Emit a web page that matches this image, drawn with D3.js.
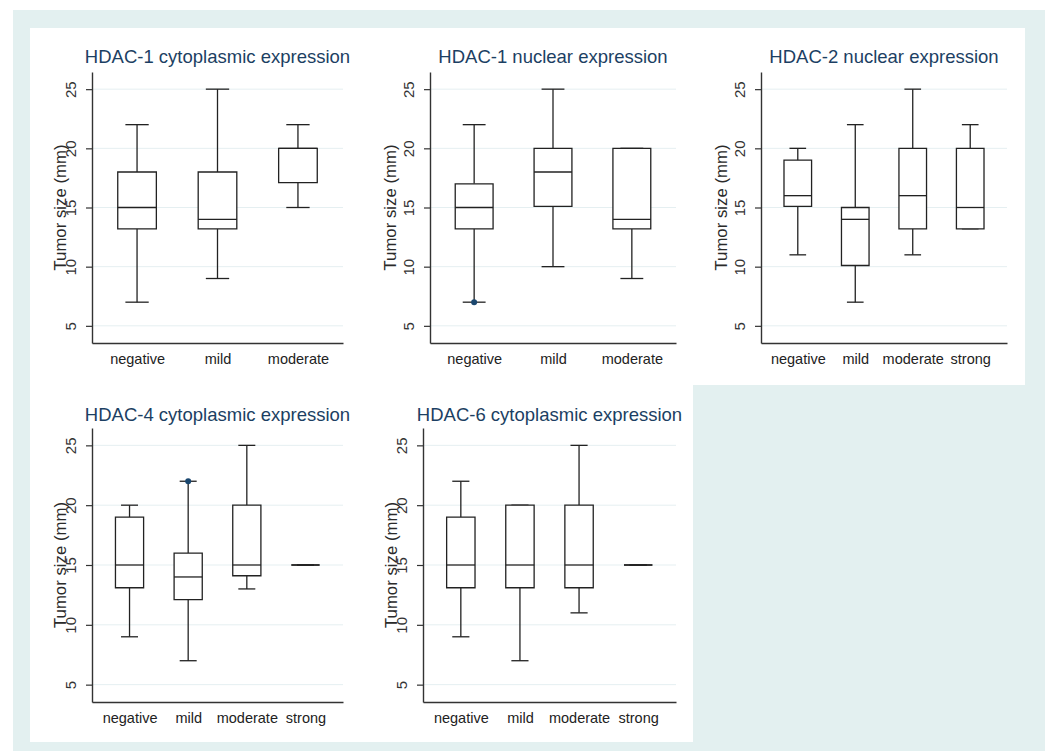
<!DOCTYPE html>
<html>
<head>
<meta charset="utf-8">
<script src="https://cdn.jsdelivr.net/npm/d3@7"></script>
<style>
  body { margin: 0; background: #fff; }
  svg { display: block; font-family: "Liberation Sans", Arial, sans-serif; }
</style>
</head>
<body>
<div id="chart"></div>
<script>
// categories
const catsThree = ["negative", "mild", "moderate"];
const catsFour = ["negative", "mild", "moderate", "strong"];
const yTicks = [5, 10, 15, 20, 25];

// box stats per category: [lower whisker, q1, median, q3, upper whisker]
const hdac1Cyto = [[7, 13.2, 15, 18, 22], [9, 13.2, 14, 18, 25], [15, 17.1, 20, 20, 22]];
const hdac1Nuc = [[7, 13.2, 15, 17, 22], [10, 15.1, 18, 20, 25], [9, 13.2, 14, 20, 20]];
const hdac2Nuc = [[11, 15.1, 16, 19, 20], [7, 10.1, 14, 15, 22], [11, 13.2, 16, 20, 25], [13.2, 13.2, 15, 20, 22]];
const hdac4Cyto = [[9, 13.1, 15, 19, 20], [7, 12.1, 14, 16, 22], [13, 14.1, 15, 20, 25], [15, 15, 15, 15, 15]];
const hdac6Cyto = [[9, 13.1, 15, 19, 22], [7, 13.1, 15, 20, 20], [11, 13.1, 15, 20, 25], [15, 15, 15, 15, 15]];

// outside values: [category, value]
const hdac1NucOut = [["negative", 7]];
const hdac4CytoOut = [["mild", 22]];

const panels = [
  { title: "HDAC-1 cytoplasmic expression", cats: catsThree, stats: hdac1Cyto, out: [],
    left: 92, right: 343, top: 72, bottom: 343, titleY: 63, yTitleOff: 26 },
  { title: "HDAC-1 nuclear expression", cats: catsThree, stats: hdac1Nuc, out: hdac1NucOut,
    left: 430, right: 676, top: 72, bottom: 343, titleY: 63, yTitleOff: 34 },
  { title: "HDAC-2 nuclear expression", cats: catsFour, stats: hdac2Nuc, out: [],
    left: 761, right: 1007, top: 72, bottom: 343, titleY: 63, yTitleOff: 34 },
  { title: "HDAC-4 cytoplasmic expression", cats: catsFour, stats: hdac4Cyto, out: hdac4CytoOut,
    left: 92, right: 343, top: 428, bottom: 702, titleY: 421, yTitleOff: 26 },
  { title: "HDAC-6 cytoplasmic expression", cats: catsFour, stats: hdac6Cyto, out: [],
    left: 423, right: 676, top: 428, bottom: 702, titleY: 421, yTitleOff: 26 }
];

const svg = d3.select("#chart")
  .append("svg")
  .attr("width", 1045)
  .attr("height", 751);

// frame backgrounds
svg.append("rect")
  .attr("x", 13).attr("y", 10)
  .attr("width", 1032).attr("height", 741)
  .attr("fill", "#e3f0f0");

svg.append("path")
  .attr("d", d3.line()([[30, 28], [1025, 28], [1025, 385], [693, 385], [693, 742], [30, 742]]) + "Z")
  .attr("fill", "#fff");

panels.forEach(p => {
  const g = svg.append("g");

  const x = d3.scalePoint()
    .domain(p.cats)
    .range([p.left, p.right])
    .padding(p.cats.length === 3 ? 0.56 : 0.64);

  const y = d3.scaleLinear()
    .domain([3.55, 26.45])
    .range([p.bottom, p.top]);

  const step = x.step();
  const boxW = step * 0.48;
  const capW = step * 0.29;

  // grid
  g.selectAll(".grid")
    .data(yTicks)
    .enter().append("line")
    .attr("x1", p.left).attr("x2", p.right)
    .attr("y1", d => y(d)).attr("y2", d => y(d))
    .attr("stroke", "#e5eff1")
    .attr("stroke-width", 1);

  // y axis
  const ya = g.append("g")
    .attr("transform", `translate(${p.left},0)`)
    .call(d3.axisLeft(y).tickValues(yTicks).tickSize(6).tickSizeOuter(0));
  ya.select(".domain").attr("stroke", "#333").attr("stroke-width", 1.4);
  ya.selectAll(".tick line").attr("stroke", "#333").attr("stroke-width", 1.2);
  ya.selectAll(".tick text")
    .attr("x", null).attr("dy", null)
    .attr("transform", "translate(-16.5,0) rotate(-90)")
    .attr("text-anchor", "middle")
    .attr("font-size", 15)
    .attr("fill", "#333");

  // x axis
  const xa = g.append("g")
    .attr("transform", `translate(0,${p.bottom})`)
    .call(d3.axisBottom(x).tickSize(0).tickSizeOuter(0));
  xa.select(".domain").attr("stroke", "#333").attr("stroke-width", 1.4);
  xa.selectAll(".tick text")
    .attr("y", 21).attr("dy", null)
    .attr("font-size", 14.5)
    .attr("fill", "#222");

  // boxes
  const boxes = g.selectAll(".box")
    .data(p.stats.map((s, i) => ({ cat: p.cats[i], lo: s[0], q1: s[1], med: s[2], q3: s[3], hi: s[4] })))
    .enter().append("g")
    .attr("class", "box");

  const lineCol = "#222";

  boxes.append("line")
    .attr("x1", d => x(d.cat)).attr("x2", d => x(d.cat))
    .attr("y1", d => y(d.lo)).attr("y2", d => y(d.q1))
    .attr("stroke", lineCol).attr("stroke-width", 1.3);
  boxes.append("line")
    .attr("x1", d => x(d.cat)).attr("x2", d => x(d.cat))
    .attr("y1", d => y(d.q3)).attr("y2", d => y(d.hi))
    .attr("stroke", lineCol).attr("stroke-width", 1.3);
  boxes.append("line")
    .attr("x1", d => x(d.cat) - capW / 2).attr("x2", d => x(d.cat) + capW / 2)
    .attr("y1", d => y(d.lo)).attr("y2", d => y(d.lo))
    .attr("stroke", lineCol).attr("stroke-width", 1.3);
  boxes.append("line")
    .attr("x1", d => x(d.cat) - capW / 2).attr("x2", d => x(d.cat) + capW / 2)
    .attr("y1", d => y(d.hi)).attr("y2", d => y(d.hi))
    .attr("stroke", lineCol).attr("stroke-width", 1.3);

  boxes.append("path")
    .attr("d", d => {
      const x0 = x(d.cat) - boxW / 2, x1 = x(d.cat) + boxW / 2;
      return `M${x0},${y(d.q3)}H${x1}V${y(d.q1)}H${x0}Z`;
    })
    .attr("fill", "#fff")
    .attr("stroke", lineCol).attr("stroke-width", 1.3);

  boxes.append("line")
    .attr("x1", d => x(d.cat) - boxW / 2).attr("x2", d => x(d.cat) + boxW / 2)
    .attr("y1", d => y(d.med)).attr("y2", d => y(d.med))
    .attr("stroke", lineCol).attr("stroke-width", 1.3);

  // outside values
  g.selectAll(".outlier")
    .data(p.out)
    .enter().append("circle")
    .attr("cx", d => x(d[0]))
    .attr("cy", d => y(d[1]))
    .attr("r", 3)
    .attr("fill", "#1a476f");

  // y title
  g.append("text")
    .attr("transform", `translate(${p.left - p.yTitleOff},${(p.top + p.bottom) / 2}) rotate(-90)`)
    .attr("text-anchor", "middle")
    .attr("font-size", 16.8)
    .attr("fill", "#2a2a2a")
    .text("Tumor size (mm)");

  // title
  g.append("text")
    .attr("x", (p.left + p.right) / 2)
    .attr("y", p.titleY)
    .attr("text-anchor", "middle")
    .attr("font-size", 18.5)
    .attr("fill", "#1c3f63")
    .text(p.title);
});
</script>
</body>
</html>
